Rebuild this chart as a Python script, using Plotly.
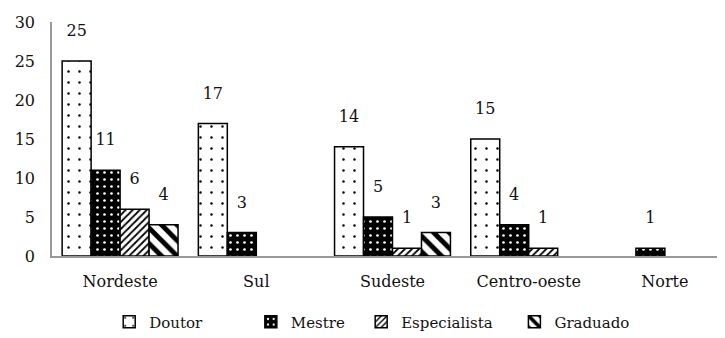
import plotly.graph_objects as go

regions = ["Nordeste", "Sul", "Sudeste", "Centro-oeste", "Norte"]
doutor = [25, 17, 14, 15, None]
mestre = [11, 3, 5, 4, 1]
especialista = [6, None, 1, 1, None]
graduado = [4, None, 3, None, None]
y_ticks = [0, 5, 10, 15, 20, 25, 30]

FONT = "DejaVu Serif"
TXT = "#111"

series = [
    ("Doutor", doutor, dict(shape=".", bgcolor="white", fgcolor="black", size=11, solidity=0.04, fillmode="replace")),
    ("Mestre", mestre, dict(shape=".", bgcolor="black", fgcolor="white", size=7, solidity=0.12, fillmode="replace")),
    ("Especialista", especialista, dict(shape="/", bgcolor="white", fgcolor="black", size=5, solidity=0.35, fillmode="replace")),
    ("Graduado", graduado, dict(shape="\\", bgcolor="white", fgcolor="black", size=11, solidity=0.45, fillmode="replace")),
]
legend_ids = ["legend", "legend2", "legend3", "legend4"]
legend_x = [0.084, 0.292, 0.454, 0.679]

xpos = list(range(len(regions)))
fig = go.Figure()
for (name, vals, pat), lid in zip(series, legend_ids):
    fig.add_trace(go.Bar(
        x=xpos, y=vals, name=name, legend=lid,
        marker=dict(color="white", line=dict(color="black", width=1.5), pattern=pat),
        text=[None if v is None else str(v) for v in vals],
        texttemplate="%{text}<br><span style='font-size:4px'> </span>",
        textposition="outside",
        textfont=dict(family=FONT, size=16, color=TXT),
        cliponaxis=False,
    ))

legend_style = dict(orientation="h", xanchor="left", y=-0.282, yanchor="middle",
                    font=dict(family=FONT, size=15, color=TXT), itemwidth=30,
                    bgcolor="rgba(0,0,0,0)")
layout_legends = {lid: dict(legend_style, x=lx) for lid, lx in zip(legend_ids, legend_x)}

fig.update_layout(
    width=725, height=338,
    margin=dict(l=44, r=0, t=14, b=90),
    paper_bgcolor="white", plot_bgcolor="white",
    barmode="group", bargap=0.149, bargroupgap=0,
    font=dict(family=FONT, size=16, color=TXT),
    showlegend=True,
    xaxis=dict(range=[-0.5, 4.5], tickmode="array", tickvals=xpos, ticktext=regions,
               showgrid=False, showline=True, linecolor="#999", linewidth=1.5,
               ticks="", ticklabelstandoff=10, zeroline=False,
               tickfont=dict(family=FONT, size=16, color=TXT)),
    yaxis=dict(range=[0, 30], tickmode="array", tickvals=y_ticks,
               showgrid=False, showline=True, linecolor="#999", linewidth=1.5,
               ticks="", ticklabelstandoff=12, zeroline=False,
               tickfont=dict(family=FONT, size=16, color=TXT)),
    **layout_legends,
)

fig.write_html("out.html")
